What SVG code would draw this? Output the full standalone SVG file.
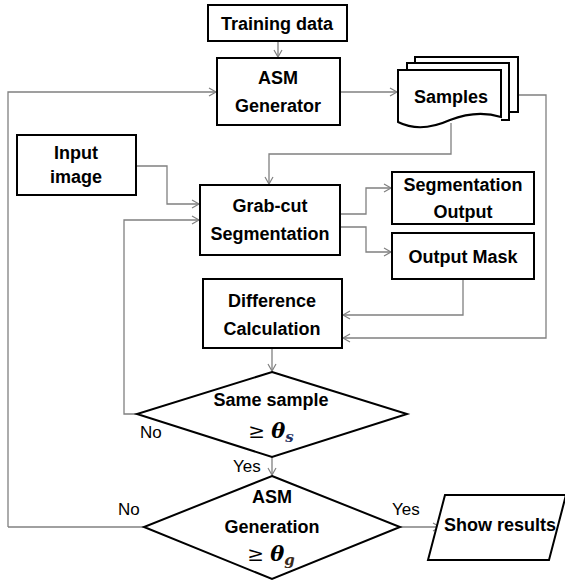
<svg xmlns="http://www.w3.org/2000/svg" width="565" height="582" viewBox="0 0 565 582">
<style>
.box{fill:#fff;stroke:#000;stroke-width:2}
.t{font-family:"Liberation Sans",Arial,sans-serif;font-weight:bold;font-size:18px;fill:#000;text-anchor:middle}
.lbl{font-family:"Liberation Sans",Arial,sans-serif;font-size:17px;fill:#000}
.m{font-family:"DejaVu Serif",serif;font-weight:bold;font-style:italic}
.ge{font-family:"DejaVu Serif",serif;font-weight:normal;font-size:20px}
.c{fill:none;stroke:#808080;stroke-width:1.3}
</style>
<defs>
<marker id="a" markerWidth="10" markerHeight="10" refX="8" refY="5" orient="auto" markerUnits="userSpaceOnUse">
<path d="M1,1 L8,5 L1,9" fill="none" stroke="#808080" stroke-width="1.2"/>
</marker>
</defs>
<rect width="565" height="582" fill="#fff"/>
<g id="connectors">
<path class="c" d="M278,41 V57" marker-end="url(#a)"/>
<path class="c" d="M340,92 H397" marker-end="url(#a)"/>
<path class="c" d="M8,527 V92 H216" marker-end="url(#a)"/>
<path class="c" d="M136,166 H167 V204 H199" marker-end="url(#a)"/>
<path class="c" d="M451,123 V154 H269 V184" marker-end="url(#a)"/>
<path class="c" d="M518,95 H546 V338 H343" marker-end="url(#a)"/>
<path class="c" d="M340,214 H366 V188 H391" marker-end="url(#a)"/>
<path class="c" d="M340,227 H366 V252 H391" marker-end="url(#a)"/>
<path class="c" d="M463,279 V315 H343" marker-end="url(#a)"/>
<path class="c" d="M272,348 V371" marker-end="url(#a)"/>
<path class="c" d="M137,414 H124 V220 H199" marker-end="url(#a)"/>
<path class="c" d="M272,457 V475" marker-end="url(#a)"/>
<path class="c" d="M144,527 H8"/>
<path class="c" d="M400,527 H440" marker-end="url(#a)"/>
<text class="lbl" x="140" y="438">No</text>
<text class="lbl" x="233" y="472">Yes</text>
<text class="lbl" x="118" y="515">No</text>
<text class="lbl" x="392" y="515">Yes</text>
</g>
<g id="training">
<rect class="box" x="208" y="5" width="139" height="36"/>
<text class="t" x="277" y="30">Training data</text>
</g>
<g id="asm-generator">
<rect class="box" x="217" y="58" width="123" height="67"/>
<text class="t" x="278" y="84">ASM</text>
<text class="t" x="278" y="112">Generator</text>
</g>
<g id="samples">
<path class="box" d="M415,63 V57 H518 V112 H509"/>
<path class="box" d="M407,70 V63 H509 V120 H501"/>
<path class="box" d="M398,70 H501 V117 C485,112 468,113 450,120 C430,129 412,129 398,122 Z"/>
<text class="t" x="451" y="103">Samples</text>
</g>
<g id="input-image">
<rect class="box" x="17" y="135" width="119" height="60"/>
<text class="t" x="76" y="159">Input</text>
<text class="t" x="76" y="183">image</text>
</g>
<g id="grabcut">
<rect class="box" x="200" y="185" width="140" height="70"/>
<text class="t" x="270" y="212">Grab-cut</text>
<text class="t" x="270" y="240">Segmentation</text>
</g>
<g id="seg-output">
<rect class="box" x="392" y="172" width="142" height="52"/>
<text class="t" x="463" y="191">Segmentation</text>
<text class="t" x="463" y="218">Output</text>
</g>
<g id="output-mask">
<rect class="box" x="392" y="233" width="142" height="46"/>
<text class="t" x="463" y="263">Output Mask</text>
</g>
<g id="difference">
<rect class="box" x="203" y="279" width="139" height="69"/>
<text class="t" x="272" y="307">Difference</text>
<text class="t" x="272" y="335">Calculation</text>
</g>
<g id="same-sample">
<polygon class="box" points="272,372 407,414 272,457 137,414"/>
<text class="t" x="271" y="406">Same sample</text>
<text class="t" x="271" y="438"><tspan class="ge">≥ </tspan><tspan class="m" font-size="21">θ</tspan><tspan class="m" font-size="15" dy="4" fill="#1f3060">s</tspan></text>
</g>
<g id="asm-generation">
<polygon class="box" points="272,476 400,527 272,579 144,527"/>
<text class="t" x="272" y="503">ASM</text>
<text class="t" x="272" y="533">Generation</text>
<text class="t" x="271" y="561"><tspan class="ge">≥ </tspan><tspan class="m" font-size="21">θ</tspan><tspan class="m" font-size="15" dy="4" fill="#3a2a1a">g</tspan></text>
</g>
<g id="show-results">
<polygon class="box" points="445,495 566,495 549,560 428,560"/>
<text class="t" x="500" y="531">Show results</text>
</g>
</svg>
